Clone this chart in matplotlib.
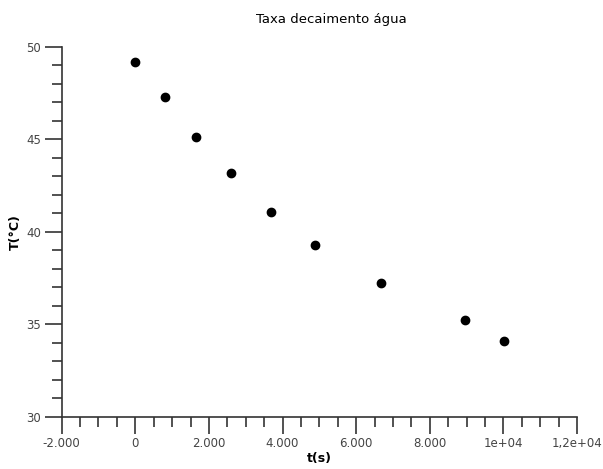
import matplotlib.pyplot as plt
from matplotlib.ticker import MultipleLocator

# dados
tempo = [0, 820, 1660, 2610, 3690, 4880, 6680, 8950, 10030]
temperatura = [49.17, 47.29, 45.11, 43.16, 41.05, 39.27, 37.23, 35.21, 34.07]

xticks = [-2000, 0, 2000, 4000, 6000, 8000, 10000, 12000]
xticklabels = ['-2.000', '0', '2.000', '4.000', '6.000', '8.000', '1e+04', '1,2e+04']
yticks = [30, 35, 40, 45, 50]

fig = plt.figure(figsize=(6.03, 4.69), dpi=100)
ax = fig.add_axes([0.1023, 0.1119, 0.8546, 0.788])

ax.plot(tempo, temperatura, 'o', color='black', markersize=6, clip_on=False)

ax.set_xlim(-2000, 12000)
ax.set_ylim(30, 50)
ax.set_xticks(xticks)
ax.set_xticklabels(xticklabels)
ax.set_yticks(yticks)
ax.xaxis.set_minor_locator(MultipleLocator(500))
ax.yaxis.set_minor_locator(MultipleLocator(1))

for s in ['top', 'right']:
    ax.spines[s].set_visible(False)
for s in ['left', 'bottom']:
    ax.spines[s].set_color('#333333')
    ax.spines[s].set_linewidth(1.2)

ax.tick_params(which='major', direction='out', length=12, width=1.2, color='#333333',
               labelsize=8.5, labelcolor='#444444', pad=3)
ax.tick_params(which='minor', direction='out', length=7, width=1.2, color='#333333')

ax.set_xlabel('t(s)', fontsize=9, fontweight='bold', labelpad=1)
ax.set_ylabel('T(°C)', fontsize=9, fontweight='bold', labelpad=3)

fig.text(331 / 603, 1 - 20 / 469, 'Taxa decaimento água', ha='center', va='center', fontsize=9.5, color='black')

fig.savefig('out.png', dpi=100)
